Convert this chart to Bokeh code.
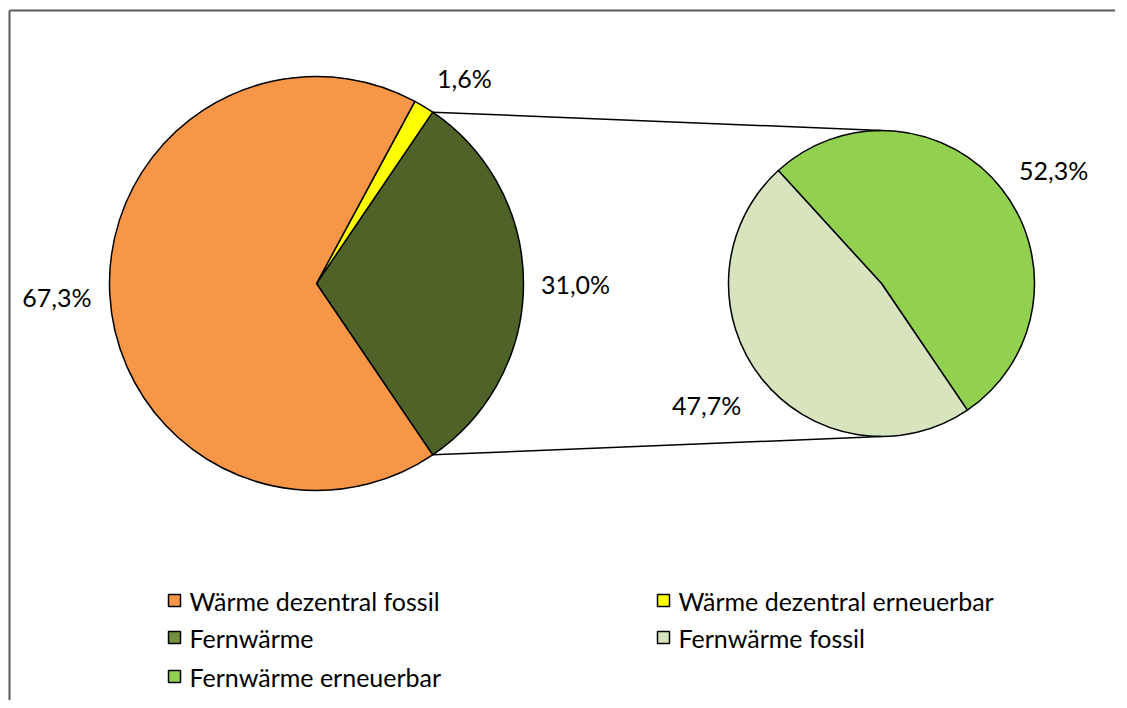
import math
from bokeh.plotting import figure
from bokeh.models import ColumnDataSource, Range1d
from bokeh.core.properties import value
from bokeh.embed import file_html
from bokeh.resources import INLINE

# ---- data ----
main_labels = ["Fernwärme", "Wärme dezentral erneuerbar", "Wärme dezentral fossil"]
main_values = [31.0, 1.6, 67.3]
main_colors = ["#4F6228", "#FFFF00", "#F79646"]

sub_labels = ["Fernwärme erneuerbar", "Fernwärme fossil"]
sub_values = [52.3, 47.7]
sub_colors = ["#92D050", "#D7E4BD"]

legend_labels = ["Wärme dezentral fossil", "Wärme dezentral erneuerbar", "Fernwärme",
                 "Fernwärme fossil", "Fernwärme erneuerbar"]
legend_colors = ["#F79646", "#FFFF00", "#74903D", "#D7E4BD", "#92D050"]

W, H = 1115, 700
FONT = "Lato"
FS = "25px"

p = figure(width=W, height=H, output_backend="svg", toolbar_location=None,
           x_range=Range1d(0, W), y_range=Range1d(0, H), min_border=0,
           border_fill_color="white")
p.axis.visible = False
p.grid.visible = False
p.outline_line_color = None
p.background_fill_color = "white"

# frame (left and top edges visible)
p.segment(x0=[9, 9], y0=[0, 690], x1=[9, W], y1=[690, 690],
          line_color="#595959", line_width=2)

# main pie
cx1, cy1, r1 = 316, 417, 207
total = sum(main_values)
half = main_values[0] / total * math.pi
starts, ends = [], []
a = -half
for v in main_values:
    starts.append(a)
    a += v / total * 2 * math.pi
    ends.append(a)
ends[-1] = 2 * math.pi - half
src1 = ColumnDataSource(dict(start=starts, end=ends, color=main_colors))
p.wedge(x=cx1, y=cy1, radius=r1, start_angle="start", end_angle="end",
        fill_color="color", line_color="black", line_width=1.5, source=src1)

# secondary pie
cx2, cy2, r2 = 881, 417, 153
tot2 = sum(sub_values)
s2, e2 = [], []
a = -half
for v in sub_values:
    s2.append(a)
    a += v / tot2 * 2 * math.pi
    e2.append(a)
src2 = ColumnDataSource(dict(start=s2, end=e2, color=sub_colors))
p.wedge(x=cx2, y=cy2, radius=r2, start_angle="start", end_angle="end",
        fill_color="color", line_color="black", line_width=1.5, source=src2)

# connector lines
p.segment(x0=[cx1 + r1 * math.cos(half), cx1 + r1 * math.cos(-half)],
          y0=[cy1 + r1 * math.sin(half), cy1 + r1 * math.sin(-half)],
          x1=[cx2, cx2], y1=[cy2 + r2, cy2 - r2],
          line_color="black", line_width=1.5)

# data labels
def fmt(v):
    return ("%.1f" % v).replace(".", ",") + "%"

lx, ly, lt = [], [], []
main_label_r = [259, 253, 260]
main_label_da = [0, -4.5, 0.2]
for i, v in enumerate(main_values):
    mid = (starts[i] + ends[i]) / 2 + math.radians(main_label_da[i])
    lx.append(cx1 + main_label_r[i] * math.cos(mid))
    ly.append(cy1 + main_label_r[i] * math.sin(mid))
    lt.append(fmt(v))
sub_label_r = [206, 213]
sub_label_da = [-5, -3.5]
for i, v in enumerate(sub_values):
    mid = (s2[i] + e2[i]) / 2 + math.radians(sub_label_da[i])
    lx.append(cx2 + sub_label_r[i] * math.cos(mid))
    ly.append(cy2 + sub_label_r[i] * math.sin(mid))
    lt.append(fmt(v))
p.text(x=lx, y=ly, text=lt, text_font=value(FONT), text_font_size=FS,
       text_align="center", text_baseline="middle", text_color="black")

# legend
leg_x = [168, 657, 168, 657, 168]
leg_y = [100, 100, 63, 63, 24]
p.rect(x=[x + 6 for x in leg_x], y=leg_y, width=12, height=12,
       fill_color=legend_colors, line_color="black", line_width=1.5)
p.text(x=[x + 21 for x in leg_x], y=leg_y, text=legend_labels, text_font=value(FONT),
       text_font_size=FS, text_align="left", text_baseline="middle",
       text_color="black")

open("out.html", "w").write(file_html(p, INLINE))
